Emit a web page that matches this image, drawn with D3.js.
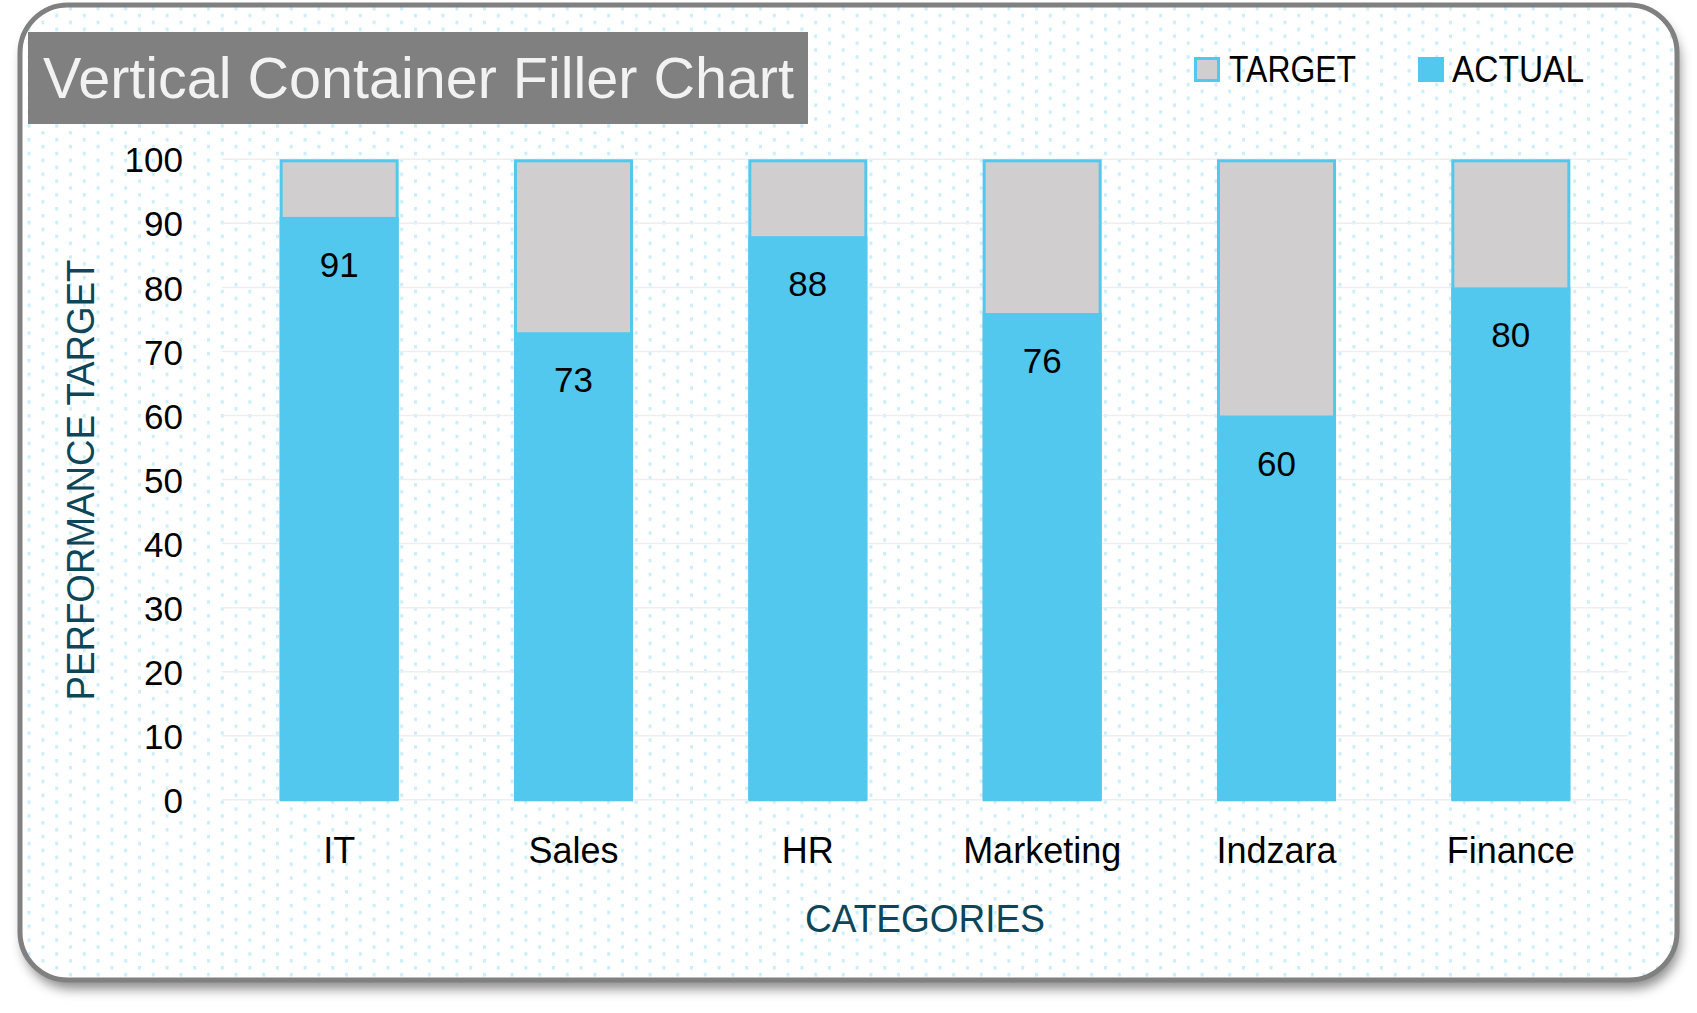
<!DOCTYPE html>
<html>
<head>
<meta charset="utf-8">
<script src="https://cdn.jsdelivr.net/npm/d3@7"></script>
<style>
  body { margin: 0; background: #ffffff; }
  svg { display: block; font-family: "Liberation Sans", Arial, sans-serif; }
</style>
</head>
<body>
<svg id="chart" width="1697" height="1013"></svg>
<script>
// chart data
var categories = ["IT", "Sales", "HR", "Marketing", "Indzara", "Finance"];
var actual = [91, 73, 88, 76, 60, 80];
var target = [100, 100, 100, 100, 100, 100];
var yTicks = [0, 10, 20, 30, 40, 50, 60, 70, 80, 90, 100];
var seriesNames = ["TARGET", "ACTUAL"];

var blue = "#53c8ee",
    grey = "#d0cece";

let svg = d3.select("#chart");
let defs = svg.append("defs");

// shadow under the card
let shadow = defs.append("filter").attr("id", "shadow")
    .attr("x", "-5%").attr("y", "-5%").attr("width", "112%").attr("height", "115%");
shadow.append("feDropShadow")
    .attr("dx", 3).attr("dy", 9).attr("stdDeviation", 6)
    .attr("flood-color", "#000").attr("flood-opacity", 0.45);

// dotted background fill
let pat = defs.append("pattern").attr("id", "dots")
    .attr("patternUnits", "userSpaceOnUse")
    .attr("width", 27.6).attr("height", 13.8);
pat.append("rect").attr("x", 0).attr("y", 0).attr("width", 3).attr("height", 3.5).attr("fill", "#cbeefb");
pat.append("rect").attr("x", 13.8).attr("y", 6.9).attr("width", 3).attr("height", 3.5).attr("fill", "#cbeefb");

// card
svg.append("rect")
    .attr("x", 20).attr("y", 5).attr("width", 1657).attr("height", 975)
    .attr("rx", 48).attr("ry", 48)
    .attr("fill", "#ffffff").attr("filter", "url(#shadow)");
svg.append("rect")
    .attr("x", 20).attr("y", 5).attr("width", 1657).attr("height", 975)
    .attr("rx", 48).attr("ry", 48)
    .attr("fill", "url(#dots)")
    .attr("stroke", "#808080").attr("stroke-width", 5);

// title box
svg.append("rect")
    .attr("x", 28).attr("y", 32).attr("width", 780).attr("height", 92)
    .attr("fill", "#808080");
svg.append("text")
    .attr("x", 43).attr("y", 98)
    .attr("font-size", 58)
    .attr("fill", "#f2f2f2")
    .attr("textLength", 751)
    .attr("lengthAdjust", "spacingAndGlyphs")
    .text("Vertical Container Filler Chart");

// scales
var x = d3.scaleBand()
    .domain(categories)
    .range([222, 1628])
    .paddingInner(0.492)
    .paddingOuter(0.246);
var y = d3.scaleLinear()
    .domain([0, 100])
    .range([799.8, 159.3]);

// gridlines
svg.append("g")
    .selectAll("line")
    .data(yTicks)
    .enter()
    .append("line")
    .attr("x1", 222).attr("x2", 1628)
    .attr("y1", d => y(d)).attr("y2", d => y(d))
    .attr("stroke", "#eeeeee").attr("stroke-width", 1.5);

// y axis labels
let yAxis = svg.append("g")
    .attr("transform", "translate(183,0)")
    .call(d3.axisLeft(y).tickValues(yTicks).tickSize(0).tickPadding(0));
yAxis.select(".domain").remove();
yAxis.selectAll("text")
    .attr("font-family", "Liberation Sans, Arial, sans-serif")
    .attr("font-size", 35)
    .attr("fill", "#000")
    .attr("dy", "0.36em");

// x axis labels
let xAxis = svg.append("g")
    .attr("transform", "translate(0,863)")
    .call(d3.axisBottom(x).tickSize(0).tickPadding(0));
xAxis.select(".domain").remove();
xAxis.selectAll("text")
    .attr("font-family", "Liberation Sans, Arial, sans-serif")
    .attr("font-size", 36)
    .attr("fill", "#000")
    .attr("dy", 0);

// bars: target container first, actual on top
let data = categories.map(function(c, i) {
    return {cat: c, target: target[i], actual: actual[i]};
});
let bars = svg.append("g").selectAll("g")
    .data(data)
    .enter()
    .append("g");

bars.append("rect")
    .attr("x", d => x(d.cat) + 1.5)
    .attr("y", d => y(d.target) + 1.5)
    .attr("width", x.bandwidth() - 3)
    .attr("height", d => y(0) - y(d.target) - 1.5)
    .attr("fill", grey)
    .attr("stroke", blue).attr("stroke-width", 3);

bars.append("rect")
    .attr("x", d => x(d.cat))
    .attr("y", d => y(d.actual))
    .attr("width", x.bandwidth())
    .attr("height", d => y(0) - y(d.actual))
    .attr("fill", blue);

// value labels inside the top of the actual bar
bars.append("text")
    .attr("x", d => x(d.cat) + x.bandwidth() / 2)
    .attr("y", d => y(d.actual) + 60)
    .attr("text-anchor", "middle")
    .attr("font-size", 35)
    .attr("fill", "#000")
    .text(d => d.actual);

// axis titles
svg.append("text")
    .attr("x", 925).attr("y", 932)
    .attr("text-anchor", "middle")
    .attr("font-size", 38)
    .attr("fill", "#0d4658")
    .attr("textLength", 240)
    .attr("lengthAdjust", "spacingAndGlyphs")
    .text("CATEGORIES");
svg.append("text")
    .attr("transform", "translate(94,480) rotate(-90)")
    .attr("text-anchor", "middle")
    .attr("font-size", 38)
    .attr("fill", "#0d4658")
    .attr("textLength", 441)
    .attr("lengthAdjust", "spacingAndGlyphs")
    .text("PERFORMANCE TARGET");

// legend
let legendX = [1194, 1418];
let legendW = [127, 132];
let legend = svg.append("g").selectAll("g")
    .data(seriesNames)
    .enter()
    .append("g")
    .attr("transform", (d, i) => "translate(" + legendX[i] + ",57)");
legend.append("rect")
    .attr("x", (d, i) => i == 0 ? 1.5 : 0)
    .attr("y", (d, i) => i == 0 ? 1.5 : 0)
    .attr("width", (d, i) => i == 0 ? 23 : 26)
    .attr("height", (d, i) => i == 0 ? 22 : 25)
    .attr("fill", (d, i) => i == 0 ? grey : blue)
    .attr("stroke", (d, i) => i == 0 ? blue : "none")
    .attr("stroke-width", 3);
legend.append("text")
    .attr("x", (d, i) => i == 0 ? 35 : 34)
    .attr("y", 25)
    .attr("font-size", 36)
    .attr("fill", "#000")
    .attr("textLength", (d, i) => legendW[i])
    .attr("lengthAdjust", "spacingAndGlyphs")
    .text(d => d);
</script>
</body>
</html>
